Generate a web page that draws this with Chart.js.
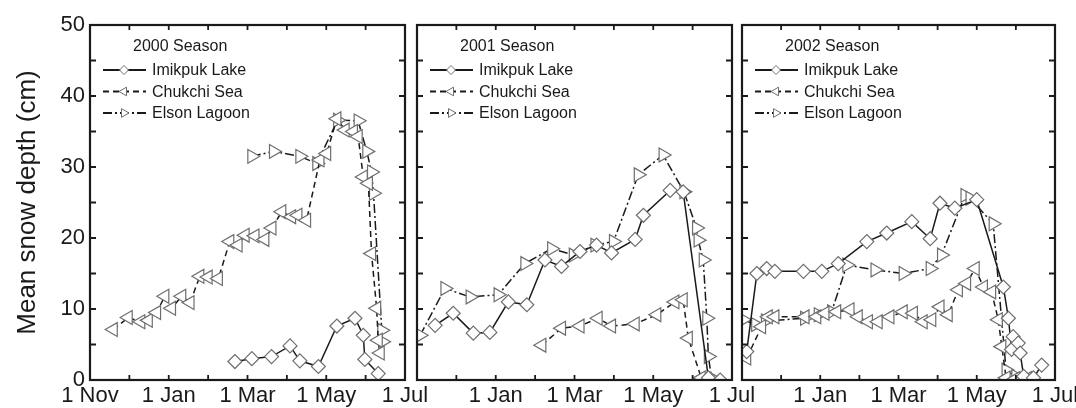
<!DOCTYPE html>
<html>
<head>
<meta charset="utf-8">
<script src="https://cdn.jsdelivr.net/npm/chart.js@4.4.1/dist/chart.umd.min.js"></script>
<style>
  html, body { margin: 0; padding: 0; background: #fff; }
  #wrap { position: relative; width: 1076px; height: 408px; }
  #wrap canvas { position: absolute; left: 0; top: 0; }
</style>
</head>
<body>
<div id="wrap">
  <canvas id="panel0" width="1076" height="408"></canvas>
  <canvas id="panel1" width="1076" height="408"></canvas>
  <canvas id="panel2" width="1076" height="408"></canvas>
</div>
<script>
// Snow-depth records, x = months since 1 November, y = mean depth in cm.
const seasons = ['2000 Season', '2001 Season', '2002 Season'];
const stations = ['Imikpuk Lake', 'Chukchi Sea', 'Elson Lagoon'];
const monthTicks = ['1 Nov', '', '1 Jan', '', '1 Mar', '', '1 May', '', '1 Jul'];
const yMajorTicks = [0, 10, 20, 30, 40, 50];
const yMinorTicks = [5, 15, 25, 35, 45];

const imikpuk2000 = [[3.68,2.6],[4.11,3.0],[4.61,3.3],[5.08,4.8],[5.33,2.7],[5.80,1.9],[6.27,7.6],[6.73,8.7],[6.94,6.3],[6.98,2.9],[7.32,0.9]];
const chukchi2000 = [[0.59,7.1],[0.97,8.8],[1.29,8.2],[1.48,8.4],[1.69,9.5],[1.90,11.8],[2.07,10.1],[2.33,11.8],[2.54,10.9],[2.79,14.6],[3.00,14.5],[3.26,14.3],[3.55,19.5],[3.76,19.0],[3.94,20.4],[4.19,20.3],[4.44,19.8],[4.62,21.4],[4.87,23.7],[5.12,23.0],[5.28,23.2],[5.50,22.5],[5.84,31.0],[6.01,31.9],[6.27,36.8],[6.48,35.2],[6.69,35.0],[6.81,34.3],[6.94,28.6],[7.07,27.7],[7.15,17.8],[7.28,10.1],[7.32,5.6],[7.37,3.8]];
const elson2000 = [[4.11,31.5],[4.66,32.2],[5.33,31.5],[5.76,30.5],[6.29,36.6],[6.81,36.5],[7.03,32.2],[7.15,29.3],[7.20,26.3],[7.41,7.0],[7.43,5.4]];

const imikpuk2001 = [[0.46,7.7],[0.92,9.4],[1.43,6.6],[1.85,6.7],[2.32,11.0],[2.79,10.6],[3.25,16.9],[3.67,16.0],[4.14,18.1],[4.56,19.0],[4.94,17.9],[5.54,19.8],[5.75,23.2],[6.43,26.7],[6.76,26.5],[7.40,0.3],[7.70,0.0]];
const chukchi2001 = [[3.17,4.9],[3.67,7.3],[4.14,7.6],[4.60,8.7],[4.94,7.6],[5.54,7.9],[6.09,9.2],[6.55,11.0],[6.76,11.3],[6.89,5.9],[7.22,0.3]];
const elson2001 = [[0.08,6.3],[0.71,12.9],[1.35,11.7],[2.06,12.0],[2.74,16.4],[3.42,18.5],[3.97,17.6],[4.52,19.0],[4.99,19.5],[5.62,28.9],[6.25,31.7],[6.78,26.5],[7.10,21.4],[7.14,19.7],[7.27,16.9],[7.36,8.7],[7.40,3.3],[7.48,0.3]];

const imikpuk2002 = [[0.12,4.0],[0.38,15.0],[0.63,15.7],[0.84,15.3],[1.57,15.3],[2.04,15.3],[2.46,16.4],[3.19,19.5],[3.70,20.7],[4.34,22.3],[4.81,19.9],[5.06,24.9],[5.44,24.2],[6.00,25.4],[6.68,13.1],[6.81,8.7],[6.89,4.3],[6.93,6.1],[7.06,5.2],[7.11,3.8],[7.20,0.5],[7.45,0.3],[7.66,2.1]];
const chukchi2002 = [[0.12,3.1],[0.50,7.5],[0.67,8.9],[0.84,8.9],[1.61,8.9],[1.91,8.9],[2.12,9.4],[2.42,9.6],[2.76,9.9],[2.97,8.9],[3.23,8.2],[3.48,8.2],[3.78,8.9],[4.12,9.6],[4.38,9.4],[4.63,8.2],[4.85,8.5],[5.06,10.3],[5.27,9.2],[5.53,12.7],[5.74,13.6],[5.96,15.7],[6.17,13.1],[6.38,12.4],[6.55,8.5],[6.64,4.7],[6.75,0.3],[7.00,0.2],[7.30,0.2]];
const elson2002 = [[0.03,8.5],[0.35,7.8],[0.60,8.3],[1.60,8.7],[1.95,9.2],[2.29,9.6],[2.68,16.2],[3.40,15.5],[4.12,15.0],[4.81,15.7],[5.10,17.6],[5.70,26.0],[5.83,25.6],[6.42,22.0],[6.75,1.4],[7.00,0.5],[7.30,0.3]];

const seasonData = [
  [imikpuk2000, chukchi2000, elson2000],
  [imikpuk2001, chukchi2001, elson2001],
  [imikpuk2002, chukchi2002, elson2002]
];

// Layout of the three panels on the page
const panelEdges = [[90, 405], [417, 732], [742, 1055]];
const PLOT_TOP = 25, PLOT_BOTTOM = 380, PAGE_W = 1076, PAGE_H = 408;

const FONT = '"Liberation Sans", Arial, Helvetica, sans-serif';
const INK = '#1a1a1a';
const MARKER = '#6e6e6e';

// Line and marker style per station
const seriesStyle = [
  { borderDash: [], pointStyle: 'rectRot', pointRadius: 7, pointRotation: 0 },
  { borderDash: [6, 4], pointStyle: 'triangle', pointRadius: 8, pointRotation: -90 },
  { borderDash: [9, 3, 2, 3], pointStyle: 'triangle', pointRadius: 8, pointRotation: 90 }
];

// Closed frame with inward tick marks on all four sides
const framePlugin = {
  id: 'frame',
  afterDatasetsDraw(chart) {
    const { ctx, chartArea: a, scales: { x, y } } = chart;
    ctx.save();
    ctx.strokeStyle = INK;
    ctx.lineWidth = 1.8;
    ctx.beginPath();
    monthTicks.forEach((_, v) => {
      const px = x.getPixelForValue(v);
      ctx.moveTo(px, a.top); ctx.lineTo(px, a.top + 5);
      ctx.moveTo(px, a.bottom); ctx.lineTo(px, a.bottom - 5);
    });
    yMajorTicks.concat(yMinorTicks).forEach(v => {
      const py = y.getPixelForValue(v);
      ctx.moveTo(a.left, py); ctx.lineTo(a.left + 6, py);
      ctx.moveTo(a.right, py); ctx.lineTo(a.right - 6, py);
    });
    ctx.stroke();
    ctx.lineWidth = 2.2;
    ctx.strokeRect(a.left, a.top, a.right - a.left, a.bottom - a.top);
    ctx.restore();
  }
};

// Season legend drawn in the upper-left corner of each panel
const seasonLegend = {
  id: 'seasonLegend',
  afterDraw(chart, args, opts) {
    const { ctx, chartArea: a } = chart;
    ctx.save();
    ctx.font = '16px ' + FONT;
    ctx.fillStyle = INK;
    ctx.textBaseline = 'middle';
    ctx.textAlign = 'left';
    ctx.fillText(opts.title, a.left + 43, a.top + 22);
    chart.data.datasets.forEach((ds, k) => {
      const yy = a.top + 45 + k * 21.5;
      ctx.strokeStyle = INK;
      ctx.lineWidth = 1.8;
      ctx.setLineDash(ds.borderDash);
      ctx.beginPath();
      ctx.moveTo(a.left + 13, yy);
      ctx.lineTo(a.left + 56, yy);
      ctx.stroke();
      ctx.setLineDash([]);
      ctx.fillStyle = '#fff';
      ctx.strokeStyle = MARKER;
      ctx.lineWidth = 1;
      Chart.helpers.drawPoint(ctx, {
        pointStyle: ds.pointStyle, radius: ds.pointStyle === 'rectRot' ? 4.5 : 5,
        rotation: ds.pointRotation, borderWidth: 1
      }, a.left + 34, yy);
      ctx.fillStyle = INK;
      ctx.fillText(ds.label, a.left + 62, yy + 1);
    });
    ctx.restore();
  }
};

function makePanel(i) {
  const [left, right] = panelEdges[i];
  const first = i === 0;
  const datasets = stations.map((name, k) => ({
    label: name,
    data: seasonData[i][k].map(([x, y]) => ({ x, y })),
    borderColor: INK,
    borderWidth: 1.5,
    borderDash: seriesStyle[k].borderDash,
    pointStyle: seriesStyle[k].pointStyle,
    pointRadius: seriesStyle[k].pointRadius,
    pointRotation: seriesStyle[k].pointRotation,
    pointBorderColor: MARKER,
    pointBackgroundColor: '#fff',
    pointBorderWidth: 1.2,
    tension: 0,
    fill: false
  }));

  new Chart(document.getElementById('panel' + i), {
    type: 'line',
    data: { datasets },
    options: {
      responsive: false,
      animation: false,
      events: [],
      layout: { padding: { left: first ? 0 : left, right: PAGE_W - right, top: PLOT_TOP, bottom: 0 } },
      plugins: {
        legend: { display: false },
        tooltip: { enabled: false },
        seasonLegend: { title: seasons[i] }
      },
      scales: {
        x: {
          type: 'linear',
          min: 0,
          max: monthTicks.length - 1,
          afterBuildTicks: s => { s.ticks = monthTicks.map((_, v) => ({ value: v })); },
          grid: { display: false, drawTicks: false },
          border: { display: false },
          ticks: {
            autoSkip: false,
            maxRotation: 0,
            padding: 3,
            color: INK,
            font: { family: FONT, size: 22 },
            callback: v => (first || v > 0) ? monthTicks[v] : ''
          },
          afterFit: s => { s.height = PAGE_H - PLOT_BOTTOM; s.paddingLeft = 0; s.paddingRight = 0; }
        },
        y: {
          display: first,
          min: 0,
          max: 50,
          afterBuildTicks: s => { s.ticks = yMajorTicks.map(v => ({ value: v })); },
          grid: { display: false, drawTicks: false },
          border: { display: false },
          ticks: {
            padding: 5,
            color: INK,
            font: { family: FONT, size: 22 }
          },
          title: {
            display: true,
            text: 'Mean snow depth (cm)',
            color: INK,
            font: { family: FONT, size: 26 },
            padding: { top: 12, bottom: 0 }
          },
          afterFit: s => { s.width = first ? left : 0; s.paddingTop = 0; s.paddingBottom = 0; }
        }
      }
    },
    plugins: [framePlugin, seasonLegend]
  });
}

seasons.forEach((_, i) => makePanel(i));
</script>
</body>
</html>
